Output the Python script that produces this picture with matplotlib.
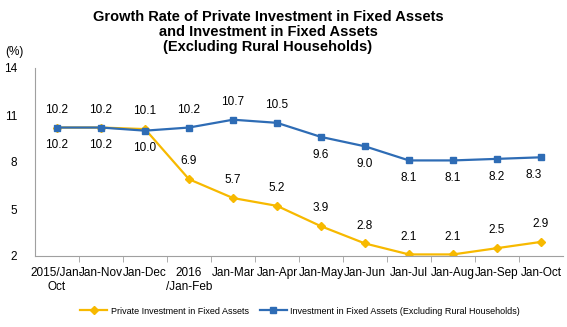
import matplotlib
matplotlib.use('Agg')
import matplotlib.pyplot as plt

plt.rcParams['font.family'] = ['Liberation Sans', 'DejaVu Sans']

# Data
categories = ['2015/Jan-\nOct', 'Jan-Nov', 'Jan-Dec', '2016\n/Jan-Feb', 'Jan-Mar', 'Jan-Apr',
              'Jan-May', 'Jan-Jun', 'Jan-Jul', 'Jan-Aug', 'Jan-Sep', 'Jan-Oct']
private = [10.2, 10.2, 10.1, 6.9, 5.7, 5.2, 3.9, 2.8, 2.1, 2.1, 2.5, 2.9]
total = [10.2, 10.2, 10.0, 10.2, 10.7, 10.5, 9.6, 9.0, 8.1, 8.1, 8.2, 8.3]
total_label_above = [False, False, False, True, True, True, False, False, False, False, False, False]
yticks = [2, 5, 8, 11, 14]

fig = plt.figure(figsize=(5.67, 3.27), dpi=100)
ax = fig.add_axes([35 / 567, 1 - 256 / 327, (563 - 35) / 567, (256 - 68) / 327])

x = list(range(len(categories)))
ax.plot(x, private, color='#F7B900', lw=1.6, marker='D', ms=4,
        label='Private Investment in Fixed Assets')
ax.plot(x, total, color='#2E6CB5', lw=1.6, marker='s', ms=4,
        label='Investment in Fixed Assets (Excluding Rural Households)')

# Data labels
for i, v in enumerate(private):
    ax.annotate(f'{v:.1f}', (i, v), xytext=(0, 8.5), textcoords='offset points',
                ha='center', va='bottom', fontsize=8.5)
for i, v in enumerate(total):
    dy = 8.5 if total_label_above[i] else -8.5
    dx = -5 if i == len(total) - 1 else 0
    ax.annotate(f'{v:.1f}', (i, v), xytext=(dx, dy), textcoords='offset points',
                ha='center', va='bottom' if total_label_above[i] else 'top', fontsize=8.5)

ax.set_xlim(-0.5, len(categories) - 0.5)
ax.set_ylim(2, 14)
ax.set_yticks(yticks)
ax.set_xticks(x)
ax.set_xticklabels(categories, fontsize=8.5)
ax.set_xticks([i + 0.5 for i in x[:-1]], minor=True)
ax.tick_params(axis='x', which='major', length=0, pad=8)
ax.tick_params(axis='x', which='minor', length=4, color='#A0A0A0')
ax.tick_params(axis='y', length=0, labelsize=8.5, pad=13)
for s in ['top', 'right']:
    ax.spines[s].set_visible(False)
for s in ['left', 'bottom']:
    ax.spines[s].set_color('#A0A0A0')

fig.text(14 / 567, 1 - 52 / 327, '(%)', ha='center', va='center', fontsize=8.5)
fig.text(268 / 567, 1 - 32 / 327,
         'Growth Rate of Private Investment in Fixed Assets\nand Investment in Fixed Assets\n(Excluding Rural Households)',
         ha='center', va='center', fontsize=10.5, fontweight='bold', linespacing=1.1)

fig.legend(loc='center', bbox_to_anchor=(300 / 567, 1 - 311 / 327), ncol=2, frameon=False,
           fontsize=6.5, handlelength=3, columnspacing=1.2, handletextpad=0.4)

fig.savefig('out.png', dpi=100)
